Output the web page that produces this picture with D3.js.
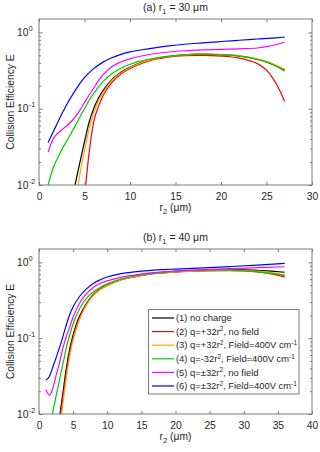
<!DOCTYPE html>
<html><head><meta charset="utf-8">
<script src="https://cdn.jsdelivr.net/npm/d3@7"></script>
<style>
body{margin:0;background:#fff}
svg{display:block}
text{font-family:"Liberation Sans",Arial,Helvetica,sans-serif;fill:#262626}
</style></head>
<body><svg id="c" width="320" height="452"></svg>
<script>
// ---------- data : panel (a) r1 = 30 µm ----------
const a1 = [[3.96,0.01],[4.5,0.02],[5,0.037],[5.5,0.066],[6,0.10],[6.5,0.135],[7,0.17],[8,0.24],[9,0.30],[10,0.35],[11,0.395],[12,0.43],[14,0.48],[16,0.51],[18,0.52],[20,0.51],[22,0.49],[23,0.47],[24,0.445],[25,0.41],[26,0.365],[27,0.32]];
const a2 = [[5.13,0.01],[5.5,0.026],[6,0.066],[6.5,0.105],[7,0.145],[7.5,0.182],[8,0.22],[9,0.285],[10,0.335],[11,0.38],[12,0.42],[14,0.47],[16,0.495],[18,0.50],[20,0.49],[21,0.48],[22,0.46],[23,0.43],[24,0.39],[25,0.32],[25.7,0.25],[26.5,0.17],[27,0.124]];
const a3 = [[4.3,0.01],[4.5,0.014],[5,0.028],[5.5,0.054],[6,0.088],[6.5,0.125],[7,0.16],[8,0.235],[9,0.295],[10,0.345],[11,0.39],[12,0.43],[14,0.48],[16,0.51],[18,0.525],[20,0.515],[22,0.495],[23,0.475],[24,0.45],[25,0.42],[26,0.375],[27,0.33]];
const a4 = [[1,0.01],[1.5,0.016],[2,0.022],[2.5,0.029],[3,0.037],[3.5,0.047],[4,0.06],[4.5,0.078],[5,0.10],[5.5,0.128],[6,0.158],[7,0.225],[8,0.288],[9,0.34],[10,0.383],[11,0.418],[12,0.445],[14,0.485],[16,0.51],[18,0.52],[20,0.51],[22,0.49],[23,0.47],[24,0.44],[25,0.41],[26,0.365],[27,0.31]];
const a5 = [[1,0.027],[1.5,0.039],[2,0.047],[2.5,0.053],[3,0.059],[3.5,0.067],[4,0.079],[4.5,0.096],[5,0.12],[5.5,0.15],[6,0.185],[6.5,0.23],[7,0.275],[8,0.355],[9,0.41],[10,0.45],[12,0.51],[14,0.55],[16,0.575],[18,0.59],[20,0.60],[22,0.61],[24,0.625],[25,0.65],[26,0.69],[27,0.75]];
const a6 = [[1,0.036],[1.5,0.048],[2,0.064],[2.5,0.085],[3,0.11],[3.5,0.14],[4,0.175],[4.5,0.215],[5,0.255],[6,0.335],[7,0.405],[8,0.465],[9,0.515],[10,0.555],[12,0.61],[14,0.66],[16,0.70],[18,0.73],[20,0.76],[22,0.79],[24,0.82],[26,0.85],[27,0.87]];

// ---------- data : panel (b) r1 = 40 µm ----------
const b1 = [[3.08,0.01],[3.5,0.019],[4,0.04],[4.5,0.072],[5,0.11],[5.5,0.155],[6,0.2],[7,0.29],[8,0.38],[9,0.45],[10,0.50],[12,0.59],[14,0.65],[16,0.70],[18,0.73],[20,0.755],[24,0.78],[28,0.795],[30,0.795],[32,0.785],[34,0.765],[36,0.74]];
const b2 = [[3.2,0.01],[3.6,0.019],[4.1,0.04],[4.6,0.072],[5.1,0.11],[5.6,0.155],[6.1,0.2],[7,0.285],[8,0.375],[9,0.445],[10,0.495],[12,0.585],[14,0.645],[16,0.695],[18,0.725],[20,0.745],[24,0.77],[28,0.78],[30,0.77],[32,0.75],[34,0.705],[36,0.645]];
const b3 = [[3.3,0.01],[3.7,0.019],[4.2,0.04],[4.7,0.072],[5.2,0.11],[5.7,0.155],[6.2,0.2],[7,0.28],[8,0.37],[9,0.44],[10,0.495],[12,0.585],[14,0.645],[16,0.695],[18,0.725],[20,0.75],[24,0.775],[28,0.785],[30,0.78],[32,0.765],[34,0.73],[36,0.685]];
const b4 = [[1.95,0.01],[2.3,0.014],[2.6,0.019],[3,0.028],[3.3,0.038],[3.7,0.055],[4,0.075],[4.5,0.11],[5,0.155],[6,0.25],[7,0.34],[8,0.41],[9,0.47],[10,0.52],[12,0.60],[14,0.66],[16,0.70],[18,0.73],[20,0.76],[24,0.79],[28,0.79],[30,0.775],[32,0.75],[34,0.715],[36,0.67]];
const b5 = [[1,0.021],[1.3,0.0185],[1.5,0.0177],[1.8,0.019],[2.1,0.023],[2.5,0.032],[3,0.047],[3.5,0.074],[4,0.105],[4.5,0.14],[5,0.19],[6,0.295],[7,0.39],[8,0.47],[9,0.53],[10,0.57],[12,0.635],[14,0.68],[16,0.72],[18,0.75],[20,0.775],[24,0.80],[28,0.83],[32,0.85],[36,0.875]];
const b6 = [[1,0.028],[1.5,0.031],[2,0.041],[2.5,0.055],[3,0.075],[3.5,0.105],[4,0.15],[4.5,0.205],[5,0.26],[6,0.36],[7,0.45],[8,0.53],[9,0.59],[10,0.64],[12,0.71],[14,0.75],[16,0.78],[18,0.80],[20,0.815],[24,0.845],[28,0.88],[32,0.92],[36,0.97]];

const colors = ["#000000","#ff0000","#ffa500","#00cc00","#ff00ff","#0000ff"];
const xTicksA = [0,5,10,15,20,25,30];
const xTicksB = [0,5,10,15,20,25,30,35,40];
const yMajor = [0.01,0.1,1];
const yExp = ["-2","-1","0"];
const legendLabels = [
  [["(1) no charge",0]],
  [["(2) q=+32r",0],["2",1],[", no field",0]],
  [["(3) q=+32r",0],["2",1],[", Field=400V cm",0],["-1",1]],
  [["(4) q=-32r",0],["2",1],[", Field=400V cm",0],["-1",1]],
  [["(5) q=±32r",0],["2",1],[", no field",0]],
  [["(6) q=±32r",0],["2",1],[", Field=400V cm",0],["-1",1]]
];

const svg = d3.select("#c");
const L = 39, R = 312;
const axisCol = "#7a7a7a";
const yMinor = [];
[0.01,0.1].forEach(d=>{for(let k=2;k<=9;k++) yMinor.push(+(d*k).toPrecision(3));});

function panel(cfg, idx){
  const x = d3.scaleLinear().domain([0,cfg.xmax]).range([L,R]);
  const y = d3.scaleLog().domain([0.01,1.5]).range([cfg.yb,cfg.yt]);
  const g = svg.append("g");
  const cid = "clip"+idx;
  g.append("clipPath").attr("id",cid).append("rect")
    .attr("x",L).attr("y",cfg.yt).attr("width",R-L).attr("height",cfg.yb-cfg.yt);
  const line = d3.line().x(d=>x(d[0])).y(d=>y(d[1])).curve(d3.curveMonotoneX);
  const lg = g.append("g").attr("clip-path",`url(#${cid})`);
  cfg.series.forEach((s,i)=>{
    lg.append("path").attr("d",line(s)).attr("fill","none")
      .attr("stroke",colors[i]).attr("stroke-width",1.2);
  });
  const styleAxis = sel=>{sel.select(".domain").remove();sel.selectAll("line").attr("stroke",axisCol);
    sel.selectAll("text").attr("font-size",10.3).attr("fill","#262626").attr("font-family",'"Liberation Sans",Arial,sans-serif');};
  g.append("g").attr("transform",`translate(0,${cfg.yb})`)
    .call(d3.axisBottom(x).tickValues(cfg.xticks).tickSize(-3).tickPadding(8).tickFormat(d3.format("d"))).call(styleAxis);
  g.append("g").attr("transform",`translate(0,${cfg.yt})`)
    .call(d3.axisTop(x).tickValues(cfg.xticks).tickSize(-3).tickFormat("")).call(styleAxis);
  g.append("g").attr("transform",`translate(${L},0)`)
    .call(d3.axisLeft(y).tickValues(yMajor).tickSize(-3.5).tickFormat("")).call(styleAxis);
  g.append("g").attr("transform",`translate(${L},0)`)
    .call(d3.axisLeft(y).tickValues(yMinor).tickSize(-2).tickFormat("")).call(styleAxis);
  g.append("g").attr("transform",`translate(${R},0)`)
    .call(d3.axisRight(y).tickValues(yMajor).tickSize(-3.5).tickFormat("")).call(styleAxis);
  g.append("g").attr("transform",`translate(${R},0)`)
    .call(d3.axisRight(y).tickValues(yMinor).tickSize(-2).tickFormat("")).call(styleAxis);
  g.append("rect").attr("x",L).attr("y",cfg.yt).attr("width",R-L).attr("height",cfg.yb-cfg.yt)
    .attr("fill","none").attr("stroke",axisCol).attr("stroke-width",1);
  yMajor.forEach((v,i)=>{
    g.append("text").attr("x",28.5).attr("y",y(v)+3.6).attr("text-anchor","end").attr("font-size",10.3).text("10");
    g.append("text").attr("x",28.8).attr("y",y(v)-1.5).attr("font-size",7).text(yExp[i]);
  });
  g.append("text").attr("transform",`translate(13.5,${(cfg.yt+cfg.yb)/2}) rotate(-90)`)
    .attr("text-anchor","middle").attr("font-size",10.3).text("Collision Efficiency E");
  const xl = g.append("text").attr("x",(L+R)/2).attr("y",cfg.yb+26).attr("text-anchor","middle").attr("font-size",10.3);
  xl.append("tspan").text("r");
  xl.append("tspan").attr("font-size",7.5).attr("dy",3).text("2");
  xl.append("tspan").attr("dy",-3).text(" (μm)");
  const tt = g.append("text").attr("x",(L+R)/2).attr("y",cfg.yt-8).attr("text-anchor","middle").attr("font-size",10.5);
  tt.append("tspan").text(cfg.tA);
  tt.append("tspan").attr("font-size",7.5).attr("dy",3).text("1");
  tt.append("tspan").attr("dy",-3).text(cfg.tB);
  return {x,y,g};
}

panel({xmax:30,xticks:xTicksA,yt:19,yb:185,series:[a1,a2,a3,a4,a5,a6],tA:"(a) r",tB:" = 30 μm"},0);
const pb = panel({xmax:40,xticks:xTicksB,yt:249,yb:414,series:[b1,b2,b3,b4,b5,b6],tA:"(b) r",tB:" = 40 μm"},1);

const lgd = pb.g.append("g");
lgd.append("rect").attr("x",148.5).attr("y",309.5).attr("width",150.5).attr("height",84.5)
  .attr("fill","#fff").attr("stroke",axisCol).attr("stroke-width",1);
legendLabels.forEach((segs,i)=>{
  const yy = 318 + i*13.6;
  lgd.append("line").attr("x1",152).attr("x2",174).attr("y1",yy).attr("y2",yy)
    .attr("stroke",colors[i]).attr("stroke-width",1.2);
  const t = lgd.append("text").attr("x",176).attr("y",yy+3.2).attr("font-size",9.4);
  let up=false;
  segs.forEach(([s,sup])=>{
    const ts = t.append("tspan").text(s);
    if(sup && !up){ts.attr("font-size",6.5).attr("dy",-3.5);up=true;}
    else if(!sup && up){ts.attr("dy",3.5);up=false;}
  });
});
</script></body></html>
